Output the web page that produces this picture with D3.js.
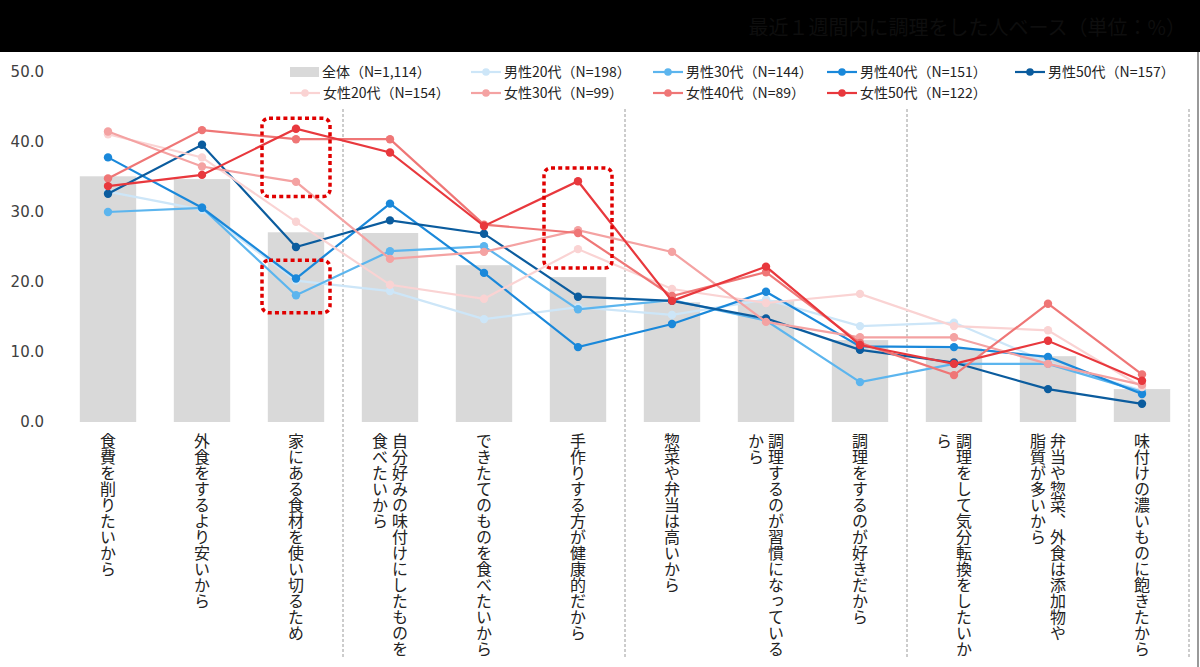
<!DOCTYPE html>
<html>
<head>
<meta charset="utf-8">
<script src="https://cdn.jsdelivr.net/npm/d3@7"></script>
<style>
  body { margin: 0; background: #fff; }
  svg { display: block; }
</style>
</head>
<body>
<script>
// categories (| splits a label into two vertical columns)
var categories = [
  "食費を削りたいから",
  "外食をするより安いから",
  "家にある食材を使い切るため",
  "自分好みの味付けにしたものを|食べたいから",
  "できたてのものを食べたいから",
  "手作りする方が健康的だから",
  "惣菜や弁当は高いから",
  "調理するのが習慣になっている|から",
  "調理をするのが好きだから",
  "調理をして気分転換をしたいか|ら",
  "弁当や惣菜、外食は添加物や|脂質が多いから",
  "味付けの濃いものに飽きたから"
];

var total = [35.1, 34.7, 27.1, 27.0, 22.4, 20.7, 17.1, 17.4, 11.7, 10.5, 9.4, 4.7];

var m20 = [32.9, 30.3, 20.2, 18.7, 14.7, 16.4, 15.3, 17.5, 13.7, 14.2, 8.5, 4.5];
var m30 = [30.0, 30.6, 18.1, 24.4, 25.1, 16.1, 17.4, 14.5, 5.7, 8.3, 8.3, 4.3];
var m40 = [37.8, 30.6, 20.5, 31.2, 21.3, 10.7, 14.0, 18.6, 10.8, 10.7, 9.3, 4.0];
var m50 = [32.6, 39.6, 25.0, 28.8, 26.9, 17.9, 17.3, 14.8, 10.3, 8.5, 4.7, 2.6];
var f20 = [41.1, 37.8, 28.6, 19.6, 17.6, 24.7, 19.0, 17.0, 18.3, 13.7, 13.1, 5.0];
var f30 = [41.5, 36.5, 34.3, 23.3, 24.3, 27.4, 24.3, 14.3, 12.1, 12.1, 8.3, 5.3];
var f40 = [34.8, 41.7, 40.4, 40.4, 28.2, 27.0, 18.0, 21.4, 11.3, 6.7, 16.9, 6.8];
var f50 = [33.7, 35.3, 41.9, 38.5, 28.0, 34.4, 17.3, 22.2, 11.0, 8.3, 11.6, 5.9];

var seriesNames = ["男性20代", "男性30代", "男性40代", "男性50代", "女性20代", "女性30代", "女性40代", "女性50代"];
var seriesN = [198, 144, 151, 157, 154, 99, 89, 122];
var seriesValues = [m20, m30, m40, m50, f20, f30, f40, f50];
var totalName = "全体";
var totalN = "1,114";

var yTicks = [0, 10, 20, 30, 40, 50];

// highlighted spots: category index and value range
var highlights = [
  {cat: 2, lo: 32.2, hi: 43.4},
  {cat: 2, lo: 15.6, hi: 23.1},
  {cat: 5, lo: 22.0, hi: 36.3}
];

var colors = ["#cde6f8", "#5cb5ee", "#1a88da", "#0b5c9e", "#fad3d3", "#f4a2a2", "#ef7676", "#e8383d"];

var W = 1200, H = 667;
var svg = d3.select("body").append("svg")
  .attr("width", W)
  .attr("height", H);

// header band
svg.append("rect")
  .attr("x", 0).attr("y", 0)
  .attr("width", W).attr("height", 52)
  .attr("fill", "#000");
svg.append("text")
  .attr("x", 1186).attr("y", 35)
  .attr("text-anchor", "end")
  .attr("font-family", "Noto Sans CJK JP")
  .attr("font-size", 20)
  .attr("fill", "#0e0e0e")
  .text("最近１週間内に調理をした人ベース（単位：%）");

// right border
svg.append("line")
  .attr("x1", 1198).attr("x2", 1198)
  .attr("y1", 52).attr("y2", H)
  .attr("stroke", "#777").attr("stroke-width", 1.5);

var x = d3.scaleBand()
  .domain(d3.range(categories.length))
  .range([61, 1189])
  .paddingInner(0.4)
  .paddingOuter(0.2);

var y = d3.scaleLinear()
  .domain([0, 50])
  .range([422, 72]);

var cx = function(i) { return x(i) + x.bandwidth() / 2; };

// y axis labels
svg.append("g")
  .selectAll("text")
  .data(yTicks)
  .enter()
  .append("text")
    .attr("x", 44)
    .attr("y", function(d) { return y(d); })
    .attr("dy", "0.36em")
    .attr("text-anchor", "end")
    .attr("font-family", "DejaVu Sans")
    .attr("font-size", 15)
    .attr("fill", "#404040")
    .text(function(d) { return d.toFixed(1); });

// group separators (every 3 categories) plus right end
var sepIdx = [3, 6, 9, 12];
svg.append("g")
  .selectAll("line")
  .data(sepIdx)
  .enter()
  .append("line")
    .attr("x1", function(d) { return x.range()[0] + d * x.step(); })
    .attr("x2", function(d) { return x.range()[0] + d * x.step(); })
    .attr("y1", 109)
    .attr("y2", 657)
    .attr("stroke", "#9a9a9a")
    .attr("stroke-width", 1)
    .attr("stroke-dasharray", "3,2");

// bars (全体)
svg.append("g")
  .selectAll("rect")
  .data(total)
  .enter()
  .append("rect")
    .attr("x", function(d, i) { return x(i); })
    .attr("y", function(d) { return y(d); })
    .attr("width", x.bandwidth())
    .attr("height", function(d) { return y(0) - y(d); })
    .attr("fill", "#d9d9d9");

// lines
var line = d3.line()
  .x(function(d, i) { return cx(i); })
  .y(function(d) { return y(d); });

seriesValues.forEach(function(vals, s) {
  var g = svg.append("g");
  g.append("path")
    .datum(vals)
    .attr("d", line)
    .attr("fill", "none")
    .attr("stroke", colors[s])
    .attr("stroke-width", 2.2);
  g.selectAll("circle")
    .data(vals)
    .enter()
    .append("circle")
      .attr("cx", function(d, i) { return cx(i); })
      .attr("cy", function(d) { return y(d); })
      .attr("r", 4.2)
      .attr("fill", colors[s]);
});

// highlight boxes
svg.append("g")
  .selectAll("rect")
  .data(highlights)
  .enter()
  .append("rect")
    .attr("x", function(d) { return cx(d.cat) - 34; })
    .attr("y", function(d) { return y(d.hi); })
    .attr("width", 68)
    .attr("height", function(d) { return y(d.lo) - y(d.hi); })
    .attr("rx", 7)
    .attr("fill", "none")
    .attr("stroke", "#e00000")
    .attr("stroke-width", 3.5)
    .attr("stroke-dasharray", "4,3.2");

// category labels, vertical
var labG = svg.append("g")
  .attr("font-family", "Noto Sans CJK JP")
  .attr("font-size", 16)
  .attr("fill", "#222");
categories.forEach(function(c, i) {
  var cols = c.split("|");
  cols.forEach(function(t, k) {
    var off = cols.length === 1 ? 0 : (k === 0 ? 10 : -10);
    labG.append("text")
      .attr("x", cx(i) + off)
      .attr("y", 433)
      .style("writing-mode", "vertical-rl")
      .attr("text-anchor", "start")
      .text(t);
  });
});

// legend
var legX = [290, 471, 653, 827, 1015];
var legRow = [72, 93];
var leg = svg.append("g")
  .attr("font-family", "Noto Sans CJK JP")
  .attr("font-size", 14)
  .attr("fill", "#222");

leg.append("rect")
  .attr("x", legX[0]).attr("y", legRow[0] - 5)
  .attr("width", 29).attr("height", 10)
  .attr("fill", "#d9d9d9");
leg.append("text")
  .attr("x", legX[0] + 32).attr("y", legRow[0])
  .attr("dy", "0.35em")
  .text(totalName + "（N=" + totalN + "）");

seriesNames.forEach(function(nm, s) {
  var col, row;
  if (s < 4) { col = s + 1; row = 0; } else { col = s - 4; row = 1; }
  var lx = legX[col], ly = legRow[row];
  leg.append("line")
    .attr("x1", lx).attr("x2", lx + 30)
    .attr("y1", ly).attr("y2", ly)
    .attr("stroke", colors[s]).attr("stroke-width", 2.2);
  leg.append("circle")
    .attr("cx", lx + 15).attr("cy", ly).attr("r", 3.8)
    .attr("fill", colors[s]);
  leg.append("text")
    .attr("x", lx + 33).attr("y", ly)
    .attr("dy", "0.35em")
    .text(nm + "（N=" + seriesN[s] + "）");
});
</script>
</body>
</html>
